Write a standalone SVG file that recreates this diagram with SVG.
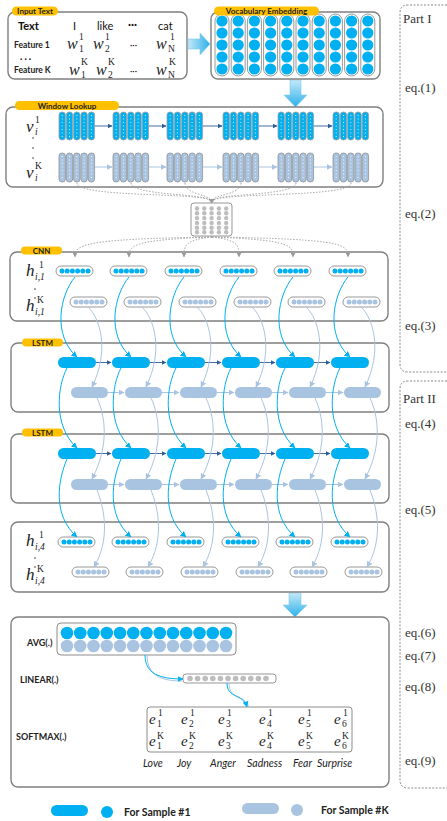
<svg xmlns="http://www.w3.org/2000/svg" xmlns:xlink="http://www.w3.org/1999/xlink" width="447" height="821" viewBox="0 0 447 821">
<style>
.box{fill:#fff;stroke:#7f7f7f;stroke-width:1.4}
.pill{fill:#ffc000}
.pt{font-family:Lato,"Liberation Sans",sans-serif;font-weight:bold;font-size:8px;fill:#222;text-anchor:middle}
.lb{font-family:Lato,"Liberation Sans",sans-serif;font-weight:bold;font-size:8.5px;fill:#222}
.tx{font-family:Lato,"Liberation Sans",sans-serif;font-size:11px;fill:#111}
.mi{font-family:"Liberation Serif",serif;font-style:italic;font-size:17px;fill:#222}
.ms{font-family:"Liberation Serif",serif;font-size:9.5px;fill:#222}
.msi{font-family:"Liberation Serif",serif;font-style:italic;font-size:9.5px;fill:#222}
.eq{font-family:"Liberation Serif",serif;font-size:13px;fill:#333}
.em{font-family:Lato,"Liberation Sans",sans-serif;font-style:italic;font-size:10.5px;fill:#222}
.bc{fill:#00b0f0}
.gc{fill:#a9c4e0}
.bl{fill:none;stroke:#00b0f0;stroke-width:1}
.gl{fill:none;stroke:#a9c4e0;stroke-width:1}
.dk{fill:none;stroke:#2e5d9a;stroke-width:0.9}
.dot{fill:none;stroke:#a0a0a0;stroke-width:0.9;stroke-dasharray:1.5 1.5}
.part{fill:none;stroke:#8a8a8a;stroke-width:1;stroke-dasharray:2 1.5}
.w{font-size:16px}
.e{font-size:15px}
.op{font-size:9px}
.lg{font-size:10.5px}
</style>
<defs>
<linearGradient id="ga" x1="0" y1="0" x2="0" y2="1"><stop offset="0" stop-color="#c4e8f8"/><stop offset="1" stop-color="#2bb1ea"/></linearGradient>
<linearGradient id="gh" x1="0" y1="0" x2="1" y2="0"><stop offset="0" stop-color="#c4e8f8"/><stop offset="1" stop-color="#2bb1ea"/></linearGradient>
<marker id="mb" markerUnits="userSpaceOnUse" markerWidth="6" markerHeight="6" refX="5.5" refY="3" orient="auto"><path d="M0,0 L6,3 L0,6 z" fill="#00b0f0"/></marker>
<marker id="mg" markerUnits="userSpaceOnUse" markerWidth="6" markerHeight="6" refX="5.5" refY="3" orient="auto"><path d="M0,0 L6,3 L0,6 z" fill="#a9c4e0"/></marker>
<marker id="md" markerUnits="userSpaceOnUse" markerWidth="5" markerHeight="5" refX="4.5" refY="2.5" orient="auto"><path d="M0,0 L5,2.5 L0,5 z" fill="#2e5d9a"/></marker>
<marker id="mr" markerUnits="userSpaceOnUse" markerWidth="5" markerHeight="5" refX="4.5" refY="2.5" orient="auto"><path d="M0,0 L5,2.5 L0,5 z" fill="#9a9a9a"/></marker>
<g id="vc"><rect x="-7" y="14" width="14" height="62" rx="7" fill="#fff" stroke="#7f7f7f" stroke-width="0.8"/><circle cx="0" cy="21" r="5.6" class="bc"/><circle cx="0" cy="33" r="5.6" class="bc"/><circle cx="0" cy="45" r="5.6" class="bc"/><circle cx="0" cy="57" r="5.6" class="bc"/><circle cx="0" cy="69" r="5.6" class="bc"/></g>
<g id="wcb"><rect x="0" y="0" width="6.4" height="28" rx="3" fill="#00b0f0" stroke="#a0a0a0" stroke-width="0.8"/><line x1="3.2" y1="3" x2="3.2" y2="26" stroke="#fff" stroke-width="0.8" stroke-dasharray="1 2.5"/></g>
<g id="wcg"><rect x="0" y="0" width="6.4" height="29" rx="3" fill="#a9c4e0" stroke="#909090" stroke-width="0.8"/><line x1="3.2" y1="3" x2="3.2" y2="27" stroke="#fff" stroke-width="0.8" stroke-dasharray="1 2.5"/></g>
<g id="wgb"><use xlink:href="#wcb" x="0"/><use xlink:href="#wcb" x="7.3"/><use xlink:href="#wcb" x="14.6"/><use xlink:href="#wcb" x="21.9"/><use xlink:href="#wcb" x="29.2"/></g>
<g id="wgg"><use xlink:href="#wcg" x="0"/><use xlink:href="#wcg" x="7.3"/><use xlink:href="#wcg" x="14.6"/><use xlink:href="#wcg" x="21.9"/><use xlink:href="#wcg" x="29.2"/></g>
<g id="cb"><rect x="0" y="0" width="37" height="10" rx="5" fill="#fff" stroke="#7f7f7f" stroke-width="0.8"/><circle cx="6" cy="5" r="2.5" class="bc"/><circle cx="11.2" cy="5" r="2.5" class="bc"/><circle cx="16.4" cy="5" r="2.5" class="bc"/><circle cx="21.6" cy="5" r="2.5" class="bc"/><circle cx="26.8" cy="5" r="2.5" class="bc"/><circle cx="32" cy="5" r="2.5" class="bc"/></g>
<g id="cg"><rect x="0" y="0" width="37" height="10" rx="5" fill="#fff" stroke="#7f7f7f" stroke-width="0.8"/><circle cx="6" cy="5" r="2.5" class="gc"/><circle cx="11.2" cy="5" r="2.5" class="gc"/><circle cx="16.4" cy="5" r="2.5" class="gc"/><circle cx="21.6" cy="5" r="2.5" class="gc"/><circle cx="26.8" cy="5" r="2.5" class="gc"/><circle cx="32" cy="5" r="2.5" class="gc"/></g>
<rect id="kb" x="0" y="0" width="38" height="11" rx="5.5" class="bc"/>
<rect id="kg" x="0" y="0" width="37" height="11" rx="5.5" class="gc"/>
</defs>

<!-- Part boxes -->
<g id="part1"><path class="part" d="M447,5 H408 Q400,5 400,13 V364 Q400,372 408,372 H447"/>
<text class="eq" x="403" y="23">Part I</text><text class="eq" x="405" y="92">eq.(1)</text><text class="eq" x="405" y="218">eq.(2)</text><text class="eq" x="405" y="330">eq.(3)</text></g>
<g id="part2"><path class="part" d="M447,381 H408 Q400,381 400,389 V780 Q400,788 408,788 H447"/>
<text class="eq" x="403" y="403">Part II</text><text class="eq" x="405" y="428">eq.(4)</text><text class="eq" x="405" y="514">eq.(5)</text><text class="eq" x="405" y="637">eq.(6)</text><text class="eq" x="405" y="660">eq.(7)</text><text class="eq" x="405" y="691">eq.(8)</text><text class="eq" x="405" y="765">eq.(9)</text></g>

<!-- Input text -->
<g id="input">
<rect class="box" x="8" y="12" width="179" height="67" rx="7"/>
<rect class="pill" x="12" y="6.5" width="46" height="9" rx="4.5"/><text class="pt" x="35" y="14">Input Text</text>
<text class="tx" x="18" y="30" font-weight="bold">Text</text>
<text class="tx" x="73" y="30">I</text><text class="tx" x="97" y="30">like</text><text class="tx" x="128" y="28" font-weight="bold">···</text><text class="tx" x="158" y="30">cat</text>
<text class="lb" x="14" y="48">Feature 1</text>
<text class="lb" x="20" y="62">· · ·</text>
<text class="lb" x="14" y="73">Feature K</text>
<text class="mi w" x="67" y="49">w</text><text class="ms" x="79" y="40">1</text><text class="ms" x="79" y="52">1</text>
<text class="mi w" x="93" y="49">w</text><text class="ms" x="105" y="40">1</text><text class="ms" x="105" y="52">2</text>
<text class="tx op" x="130" y="48">···</text>
<text class="mi w" x="156" y="49">w</text><text class="ms" x="170" y="40">1</text><text class="ms" x="168" y="52">N</text>
<text class="mi w" x="69" y="75">w</text><text class="ms" x="81" y="65">K</text><text class="ms" x="81" y="78">1</text>
<text class="mi w" x="96" y="75">w</text><text class="ms" x="108" y="65">K</text><text class="ms" x="108" y="78">2</text>
<text class="tx op" x="130" y="74">···</text>
<text class="mi w" x="156" y="75">w</text><text class="ms" x="169" y="65">K</text><text class="ms" x="168" y="78">N</text>
</g>

<!-- block arrows -->
<g id="arrows">
<path d="M188,39 H200 V33 L210,44 L200,55 V49 H188 Z" fill="url(#gh)" stroke="#7fcbee" stroke-width="0.6"/>
<path d="M290,80 H301 V95 H307 L295.5,107 L284,95 H290 Z" fill="url(#ga)" stroke="#7fcbee" stroke-width="0.6"/>
<path d="M289,593 H301 V605 H307 L295,617 L283,605 H289 Z" fill="url(#ga)" stroke="#7fcbee" stroke-width="0.6"/>
</g>

<!-- Vocabulary -->
<g id="vocab">
<rect class="box" x="211" y="12" width="169" height="67" rx="7"/>
<use xlink:href="#vc" x="222"/><use xlink:href="#vc" x="238.2"/><use xlink:href="#vc" x="254.4"/><use xlink:href="#vc" x="270.6"/><use xlink:href="#vc" x="286.8"/><use xlink:href="#vc" x="303"/><use xlink:href="#vc" x="319.2"/><use xlink:href="#vc" x="335.4"/><use xlink:href="#vc" x="351.6"/><use xlink:href="#vc" x="367.8"/>
<rect class="pill" x="214" y="6.5" width="105" height="9" rx="4.5"/><text class="pt" x="266.5" y="14">Vocabulary Embedding</text>
</g>

<!-- Window lookup -->
<g id="window">
<rect class="box" x="6" y="107" width="377" height="80" rx="7"/>
<rect class="pill" x="15" y="101" width="104" height="9" rx="4.5"/><text class="pt" x="67" y="108.5">Window Lookup</text>
<text class="mi" x="26" y="132">v</text><text class="ms" x="35" y="123">1</text><text class="msi" x="35" y="135">i</text>
<text class="mi" x="26" y="178">v</text><text class="ms" x="35" y="169">K</text><text class="msi" x="35" y="181">i</text>
<circle cx="33" cy="138" r="0.8" fill="#333"/><circle cx="33" cy="148" r="0.8" fill="#333"/><circle cx="33" cy="158" r="0.8" fill="#333"/>
<use xlink:href="#wgb" x="59" y="112"/><use xlink:href="#wgb" x="113" y="112"/><use xlink:href="#wgb" x="167" y="112"/><use xlink:href="#wgb" x="223" y="112"/><use xlink:href="#wgb" x="278" y="112"/><use xlink:href="#wgb" x="333" y="112"/>
<use xlink:href="#wgg" x="59" y="153"/><use xlink:href="#wgg" x="113" y="153"/><use xlink:href="#wgg" x="167" y="153"/><use xlink:href="#wgg" x="223" y="153"/><use xlink:href="#wgg" x="278" y="153"/><use xlink:href="#wgg" x="333" y="153"/>
</g>

<!-- grid -->
<g id="grid">
<rect x="191" y="203" width="41" height="33" rx="3" fill="#fff" stroke="#8a8a8a" stroke-width="0.9"/>
<g fill="#bdbdbd">
<circle cx="197" cy="208.5" r="2.2"/><circle cx="204.3" cy="208.5" r="2.2"/><circle cx="211.6" cy="208.5" r="2.2"/><circle cx="218.9" cy="208.5" r="2.2"/><circle cx="226.2" cy="208.5" r="2.2"/>
<circle cx="197" cy="213.3" r="2.2"/><circle cx="204.3" cy="213.3" r="2.2"/><circle cx="211.6" cy="213.3" r="2.2"/><circle cx="218.9" cy="213.3" r="2.2"/><circle cx="226.2" cy="213.3" r="2.2"/>
<circle cx="197" cy="218.1" r="2.2"/><circle cx="204.3" cy="218.1" r="2.2"/><circle cx="211.6" cy="218.1" r="2.2"/><circle cx="218.9" cy="218.1" r="2.2"/><circle cx="226.2" cy="218.1" r="2.2"/>
<circle cx="197" cy="222.9" r="2.2"/><circle cx="204.3" cy="222.9" r="2.2"/><circle cx="211.6" cy="222.9" r="2.2"/><circle cx="218.9" cy="222.9" r="2.2"/><circle cx="226.2" cy="222.9" r="2.2"/>
<circle cx="197" cy="227.7" r="2.2"/><circle cx="204.3" cy="227.7" r="2.2"/><circle cx="211.6" cy="227.7" r="2.2"/><circle cx="218.9" cy="227.7" r="2.2"/><circle cx="226.2" cy="227.7" r="2.2"/>
<circle cx="197" cy="232.3" r="2.2"/><circle cx="204.3" cy="232.3" r="2.2"/><circle cx="211.6" cy="232.3" r="2.2"/><circle cx="218.9" cy="232.3" r="2.2"/><circle cx="226.2" cy="232.3" r="2.2"/>
</g>
</g>

<!-- CNN -->
<g id="cnn">
<rect class="box" x="10" y="252" width="378" height="69" rx="7"/>
<rect class="pill" x="21" y="246.5" width="41" height="8" rx="4"/><text class="pt" x="41.5" y="253.5">CNN</text>
<text class="mi" x="26" y="276">h</text><text class="ms" x="39" y="268">1</text><text class="msi" x="35" y="280">i<tspan class="ms">,1</tspan></text>
<text class="mi" x="26" y="311">h</text><text class="ms" x="37" y="303">K</text><text class="msi" x="35" y="315">i<tspan class="ms">,1</tspan></text>
<circle cx="35" cy="289" r="0.8" fill="#333"/><circle cx="35" cy="298" r="0.8" fill="#333"/>
<use xlink:href="#cb" x="56" y="266"/><use xlink:href="#cb" x="110" y="266"/><use xlink:href="#cb" x="165" y="266"/><use xlink:href="#cb" x="220" y="266"/><use xlink:href="#cb" x="274" y="266"/><use xlink:href="#cb" x="329" y="266"/>
<use xlink:href="#cg" x="70" y="297"/><use xlink:href="#cg" x="124" y="297"/><use xlink:href="#cg" x="179" y="297"/><use xlink:href="#cg" x="234" y="297"/><use xlink:href="#cg" x="288" y="297"/><use xlink:href="#cg" x="343" y="297"/>
</g>

<!-- LSTM 1 -->
<g id="lstm1">
<rect class="box" x="11" y="343" width="378" height="69" rx="7"/>
<rect class="pill" x="22" y="338.5" width="41" height="8" rx="4"/><text class="pt" x="42.5" y="345.5">LSTM</text>
<use xlink:href="#kb" x="58" y="357"/><use xlink:href="#kb" x="112" y="357"/><use xlink:href="#kb" x="167" y="357"/><use xlink:href="#kb" x="222" y="357"/><use xlink:href="#kb" x="276" y="357"/><use xlink:href="#kb" x="331" y="357"/>
<use xlink:href="#kg" x="71" y="387"/><use xlink:href="#kg" x="125" y="387"/><use xlink:href="#kg" x="180" y="387"/><use xlink:href="#kg" x="235" y="387"/><use xlink:href="#kg" x="289" y="387"/><use xlink:href="#kg" x="344" y="387"/>
</g>

<!-- LSTM 2 -->
<g id="lstm2">
<rect class="box" x="11" y="434" width="378" height="69" rx="7"/>
<rect class="pill" x="22" y="428.5" width="41" height="8" rx="4"/><text class="pt" x="42.5" y="435.5">LSTM</text>
<use xlink:href="#kb" x="58" y="448"/><use xlink:href="#kb" x="112" y="448"/><use xlink:href="#kb" x="167" y="448"/><use xlink:href="#kb" x="222" y="448"/><use xlink:href="#kb" x="276" y="448"/><use xlink:href="#kb" x="331" y="448"/>
<use xlink:href="#kg" x="71" y="479"/><use xlink:href="#kg" x="125" y="479"/><use xlink:href="#kg" x="180" y="479"/><use xlink:href="#kg" x="235" y="479"/><use xlink:href="#kg" x="289" y="479"/><use xlink:href="#kg" x="344" y="479"/>
</g>

<!-- h4 -->
<g id="h4">
<rect class="box" x="11" y="522" width="378" height="70" rx="7"/>
<text class="mi" x="26" y="546">h</text><text class="ms" x="39" y="538">1</text><text class="msi" x="35" y="550">i<tspan class="ms">,4</tspan></text>
<text class="mi" x="26" y="580">h</text><text class="ms" x="37" y="572">K</text><text class="msi" x="35" y="584">i<tspan class="ms">,4</tspan></text>
<circle cx="35" cy="558" r="0.8" fill="#333"/><circle cx="35" cy="567" r="0.8" fill="#333"/>
<use xlink:href="#cb" x="58" y="537"/><use xlink:href="#cb" x="112" y="537"/><use xlink:href="#cb" x="167" y="537"/><use xlink:href="#cb" x="222" y="537"/><use xlink:href="#cb" x="276" y="537"/><use xlink:href="#cb" x="331" y="537"/>
<use xlink:href="#cg" x="72" y="567"/><use xlink:href="#cg" x="126" y="567"/><use xlink:href="#cg" x="181" y="567"/><use xlink:href="#cg" x="236" y="567"/><use xlink:href="#cg" x="290" y="567"/><use xlink:href="#cg" x="345" y="567"/>
</g>

<!-- Output -->
<g id="output">
<rect class="box" x="11" y="617" width="378" height="170" rx="7"/>
<rect x="57" y="623" width="179" height="32" rx="4" fill="#fff" stroke="#7f7f7f" stroke-width="0.9"/>
<g class="bc"><circle cx="67" cy="633" r="6.3"/><circle cx="80.25" cy="633" r="6.3"/><circle cx="93.5" cy="633" r="6.3"/><circle cx="106.75" cy="633" r="6.3"/><circle cx="120" cy="633" r="6.3"/><circle cx="133.25" cy="633" r="6.3"/><circle cx="146.5" cy="633" r="6.3"/><circle cx="159.75" cy="633" r="6.3"/><circle cx="173" cy="633" r="6.3"/><circle cx="186.25" cy="633" r="6.3"/><circle cx="199.5" cy="633" r="6.3"/><circle cx="212.75" cy="633" r="6.3"/><circle cx="226" cy="633" r="6.3"/></g>
<g class="gc"><circle cx="67" cy="646" r="6.3"/><circle cx="80.25" cy="646" r="6.3"/><circle cx="93.5" cy="646" r="6.3"/><circle cx="106.75" cy="646" r="6.3"/><circle cx="120" cy="646" r="6.3"/><circle cx="133.25" cy="646" r="6.3"/><circle cx="146.5" cy="646" r="6.3"/><circle cx="159.75" cy="646" r="6.3"/><circle cx="173" cy="646" r="6.3"/><circle cx="186.25" cy="646" r="6.3"/><circle cx="199.5" cy="646" r="6.3"/><circle cx="212.75" cy="646" r="6.3"/><circle cx="226" cy="646" r="6.3"/></g>
<text class="lb op" x="27" y="646">AVG(.)</text>
<text class="lb op" x="20" y="683">LINEAR(.)</text>
<text class="lb op" x="16" y="740">SOFTMAX(.)</text>
<rect x="183" y="674" width="93" height="9" rx="3" fill="#fff" stroke="#7f7f7f" stroke-width="0.8"/>
<g fill="#bdbdbd"><circle cx="190" cy="678.5" r="2.8"/><circle cx="197.6" cy="678.5" r="2.8"/><circle cx="205.2" cy="678.5" r="2.8"/><circle cx="212.8" cy="678.5" r="2.8"/><circle cx="220.4" cy="678.5" r="2.8"/><circle cx="228" cy="678.5" r="2.8"/><circle cx="235.6" cy="678.5" r="2.8"/><circle cx="243.2" cy="678.5" r="2.8"/><circle cx="250.8" cy="678.5" r="2.8"/><circle cx="258.4" cy="678.5" r="2.8"/><circle cx="266" cy="678.5" r="2.8"/></g>
<rect x="147" y="707" width="205" height="45" rx="3" fill="#fff" stroke="#7f7f7f" stroke-width="0.9"/>
<g>
<text class="mi e" x="149" y="724">e</text><text class="ms" x="157" y="727">1</text><text class="ms" x="158" y="716">1</text>
<text class="mi e" x="181" y="724">e</text><text class="ms" x="189" y="727">2</text><text class="ms" x="190" y="716">1</text>
<text class="mi e" x="218" y="724">e</text><text class="ms" x="226" y="727">3</text><text class="ms" x="227" y="716">1</text>
<text class="mi e" x="259" y="724">e</text><text class="ms" x="267" y="727">4</text><text class="ms" x="268" y="716">1</text>
<text class="mi e" x="298" y="724">e</text><text class="ms" x="306" y="727">5</text><text class="ms" x="307" y="716">1</text>
<text class="mi e" x="334" y="724">e</text><text class="ms" x="342" y="727">6</text><text class="ms" x="343" y="716">1</text>
<text class="mi e" x="149" y="746">e</text><text class="ms" x="157" y="749">1</text><text class="ms" x="157" y="739">K</text>
<text class="mi e" x="181" y="746">e</text><text class="ms" x="189" y="749">2</text><text class="ms" x="189" y="739">K</text>
<text class="mi e" x="218" y="746">e</text><text class="ms" x="226" y="749">3</text><text class="ms" x="226" y="739">K</text>
<text class="mi e" x="259" y="746">e</text><text class="ms" x="267" y="749">4</text><text class="ms" x="267" y="739">K</text>
<text class="mi e" x="298" y="746">e</text><text class="ms" x="306" y="749">5</text><text class="ms" x="306" y="739">K</text>
<text class="mi e" x="334" y="746">e</text><text class="ms" x="342" y="749">6</text><text class="ms" x="342" y="739">K</text>
</g>
<text class="em" x="143" y="767">Love</text><text class="em" x="177" y="767">Joy</text><text class="em" x="210" y="767">Anger</text><text class="em" x="247" y="767">Sadness</text><text class="em" x="293" y="767">Fear</text><text class="em" x="317" y="767">Surprise</text>
</g>

<!-- Connectors -->
<g id="connectors">
<g class="dk" marker-end="url(#md)"><path d="M95,126 H112"/><path d="M149,126 H166"/><path d="M203,126 H222"/><path d="M259,126 H277"/><path d="M314,126 H332"/></g>
<g class="gl" marker-end="url(#mg)"><path d="M95,167 H112"/><path d="M149,167 H166"/><path d="M203,167 H222"/><path d="M259,167 H277"/><path d="M314,167 H332"/></g>
<g class="dot"><path d="M77,183 C77,198 206,192 211,201"/><path d="M131,183 C131,196 208,193 211,201"/><path d="M185,183 C185,195 210,194 211,201"/><path d="M241,183 C241,195 214,194 212,201"/><path d="M296,183 C296,196 216,193 212,201"/><path d="M351,183 C351,198 218,192 212,201"/></g>
<path d="M208.5,199 L215,199 L211.7,203.5 Z" fill="#9a9a9a"/>
<g class="dot" marker-end="url(#mr)"><path d="M212,237 C80,239 75,245 75,257"/><path d="M212,237 C130,240 129,246 129,257"/><path d="M212,237 C184,240 184,246 184,257"/><path d="M212,237 C239,240 239,246 239,257"/><path d="M212,237 C293,240 293,246 293,257"/><path d="M212,237 C348,239 348,245 348,257"/></g>
<g class="dk" marker-end="url(#md)"><path d="M96,362.5 H111"/><path d="M150,362.5 H166"/><path d="M205,362.5 H221"/><path d="M260,362.5 H275"/><path d="M314,362.5 H330"/>
<path d="M96,453.5 H111"/><path d="M150,453.5 H166"/><path d="M205,453.5 H221"/><path d="M260,453.5 H275"/><path d="M314,453.5 H330"/></g>
<g class="gl" marker-end="url(#mg)"><path d="M108,392.5 H124"/><path d="M162,392.5 H179"/><path d="M217,392.5 H234"/><path d="M272,392.5 H288"/><path d="M326,392.5 H343"/>
<path d="M108,484.5 H124"/><path d="M162,484.5 H179"/><path d="M217,484.5 H234"/><path d="M272,484.5 H288"/><path d="M326,484.5 H343"/></g>
<g class="bl" marker-end="url(#mb)">
<path d="M75,277 C60,295 52,335 77,357"/><path d="M129,277 C114,295 106,335 131,357"/><path d="M184,277 C169,295 161,335 186,357"/><path d="M239,277 C224,295 216,335 241,357"/><path d="M293,277 C278,295 270,335 295,357"/><path d="M348,277 C333,295 325,335 350,357"/>
<path d="M67,368 C58,385 52,425 77,448"/><path d="M121,368 C112,385 106,425 131,448"/><path d="M176,368 C167,385 161,425 186,448"/><path d="M231,368 C222,385 216,425 241,448"/><path d="M285,368 C276,385 270,425 295,448"/><path d="M340,368 C331,385 325,425 350,448"/>
<path d="M67,459 C58,480 52,515 77,537"/><path d="M121,459 C112,480 106,515 131,537"/><path d="M176,459 C167,480 161,515 186,537"/><path d="M231,459 C222,480 216,515 241,537"/><path d="M285,459 C276,480 270,515 295,537"/><path d="M340,459 C331,480 325,515 350,537"/>
</g>
<g class="gl" marker-end="url(#mg)">
<path d="M88,307 C100,318 110,350 92,387"/><path d="M142,307 C154,318 164,350 146,387"/><path d="M197,307 C209,318 219,350 201,387"/><path d="M252,307 C264,318 274,350 256,387"/><path d="M306,307 C318,318 328,350 310,387"/><path d="M361,307 C373,318 383,350 365,387"/>
<path d="M97,398 C105,415 110,445 92,479"/><path d="M151,398 C159,415 164,445 146,479"/><path d="M206,398 C214,415 219,445 201,479"/><path d="M261,398 C269,415 274,445 256,479"/><path d="M315,398 C323,415 328,445 310,479"/><path d="M370,398 C378,415 383,445 365,479"/>
<path d="M97,490 C105,510 110,540 94,567"/><path d="M151,490 C159,510 164,540 148,567"/><path d="M206,490 C214,510 219,540 203,567"/><path d="M261,490 C269,510 274,540 258,567"/><path d="M315,490 C323,510 328,540 312,567"/><path d="M370,490 C378,510 383,540 367,567"/>
</g>
<path d="M147,655 C147,676 162,681 182,681" class="gl" stroke-width="1.2"/>
<path d="M145,655 C145,674 160,679 183,679" class="bl" stroke-width="1.2" marker-end="url(#mb)"/>
<path d="M229,683 C229,700 244,694 249,707" class="gl" stroke-width="1.2"/>
<path d="M227,683 C227,699 243,693 247,707" class="bl" stroke-width="1.2" marker-end="url(#mb)"/>
</g>

<!-- Legend -->
<g id="legend">
<rect x="51" y="805" width="37" height="11" rx="5.5" class="bc"/>
<circle cx="107" cy="812" r="6" class="bc"/>
<text class="lb lg" x="124" y="816">For Sample #1</text>
<rect x="242" y="803" width="37" height="11" rx="5.5" class="gc"/>
<circle cx="297" cy="810" r="6" class="gc"/>
<text class="lb lg" x="321" y="814">For Sample #K</text>
</g>
</svg>
